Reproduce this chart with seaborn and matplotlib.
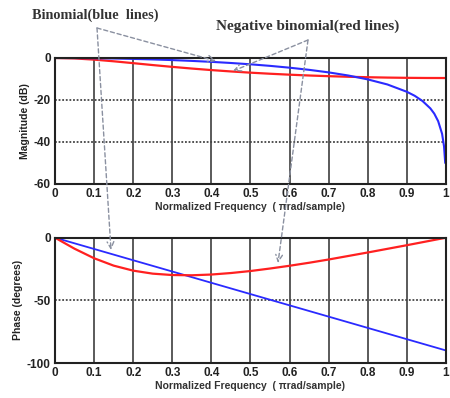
import matplotlib
matplotlib.use("Agg")
import matplotlib.pyplot as plt
import seaborn as sns
import pandas as pd

# ---- data ----
freq_blue_mag = [0, 0.05, 0.1, 0.15, 0.2, 0.25, 0.3, 0.35, 0.4, 0.45, 0.5, 0.55, 0.6,
                 0.65, 0.7, 0.75, 0.8, 0.85, 0.9, 0.92, 0.94, 0.96, 0.97, 0.98, 0.99,
                 0.995, 0.998]
mag_blue = [0, -0.03, -0.11, -0.24, -0.44, -0.69, -1.0, -1.39, -1.84, -2.38, -3.01,
            -3.75, -4.62, -5.64, -6.86, -8.34, -10.2, -12.6, -16.1, -18.0, -20.5,
            -24.0, -26.5, -30.1, -36.1, -42.1, -50.0]

freq_red = [0, 0.05, 0.1, 0.15, 0.2, 0.25, 0.3, 0.35, 0.4, 0.45, 0.5, 0.55, 0.6,
            0.65, 0.7, 0.75, 0.8, 0.85, 0.9, 0.95, 1.0]
mag_red = [0, -0.21, -0.78, -1.57, -2.46, -3.37, -4.23, -5.03, -5.76, -6.41, -6.99,
           -7.50, -7.95, -8.34, -8.66, -8.94, -9.16, -9.33, -9.45, -9.52, -9.54]
phase_red = [0, -8.8, -16.4, -22.3, -26.3, -28.7, -29.8, -30.0, -29.4, -28.2, -26.6,
             -24.6, -22.4, -20.0, -17.4, -14.6, -11.8, -8.9, -6.0, -3.0, 0]

freq_blue_phase = [0, 0.1, 0.2, 0.3, 0.4, 0.5, 0.6, 0.7, 0.8, 0.9, 1.0]
phase_blue = [0, -9, -18, -27, -36, -45, -54, -63, -72, -81, -90]

xticks = [0, 0.1, 0.2, 0.3, 0.4, 0.5, 0.6, 0.7, 0.8, 0.9, 1]
xticklabels = ["0", "0.1", "0.2", "0.3", "0.4", "0.5", "0.6", "0.7", "0.8", "0.9", "1"]
mag_ticks = [0, -20, -40, -60]
phase_ticks = [0, -50, -100]

label_binomial = "Binomial(blue  lines)"
label_negbin = "Negative binomial(red lines)"
xlabel = "Normalized Frequency  ( \u03c0rad/sample)"

sns.set_style("white")
plt.rcParams["font.family"] = ["Liberation Sans", "DejaVu Sans"]

fig = plt.figure(figsize=(4.5, 3.98), dpi=100)
ax1 = fig.add_axes([0.1222, 0.5377, 0.8689, 0.3166])
ax2 = fig.add_axes([0.1222, 0.0879, 0.8689, 0.3149])

df_red = pd.DataFrame({"f": freq_red, "mag": mag_red, "phase": phase_red})
df_bm = pd.DataFrame({"f": freq_blue_mag, "mag": mag_blue})
df_bp = pd.DataFrame({"f": freq_blue_phase, "phase": phase_blue})

RED = "#ff2020"
BLUE = "#2a2aff"

sns.lineplot(data=df_red, x="f", y="mag", ax=ax1, color=RED, lw=1.6, estimator=None, sort=False)
sns.lineplot(data=df_bm, x="f", y="mag", ax=ax1, color=BLUE, lw=1.5, estimator=None, sort=False)
sns.lineplot(data=df_bp, x="f", y="phase", ax=ax2, color=BLUE, lw=1.3, estimator=None, sort=False)
sns.lineplot(data=df_red, x="f", y="phase", ax=ax2, color=RED, lw=1.6, estimator=None, sort=False)

for ax, yt, ylab, ylim in [(ax1, mag_ticks, "Magnitude (dB)", (-60, 0)),
                           (ax2, phase_ticks, "Phase (degrees)", (-100, 0))]:
    ax.set_xlim(0, 1)
    ax.set_ylim(*ylim)
    ax.set_xticks(xticks)
    ax.set_xticklabels(xticklabels, fontsize=8.5, fontweight="bold", color="#222")
    ax.set_yticks(yt)
    ax.set_yticklabels([str(v) for v in yt], fontsize=8.5, fontweight="bold", color="#222")
    ax.tick_params(length=0, pad=3)
    ax.xaxis.grid(True, color="#5a5a5a", lw=1.4, ls="-")
    ax.yaxis.grid(True, color="#444444", lw=1.3, ls=(0, (1, 1)))
    ax.set_axisbelow(True)
    for s in ax.spines.values():
        s.set_visible(True)
        s.set_color("#222")
        s.set_linewidth(1.5)
    ax.set_xlabel(xlabel, fontsize=7.5, fontweight="bold", color="#333", labelpad=1)
    ax.set_ylabel(ylab, fontsize=7.5, fontweight="bold", color="#222", labelpad=3)

# annotations
fig.text(32 / 450, 1 - 15 / 398, label_binomial, family="Liberation Serif", fontweight="bold",
         fontsize=10.3, color="#333", ha="left", va="center")
fig.text(216 / 450, 1 - 26 / 398, label_negbin, family="Liberation Serif", fontweight="bold",
         fontsize=11, color="#333", ha="left", va="center")

arrow_kw = dict(arrowstyle="->", color="#8a90a0", lw=1.0, ls=(0, (3, 2)),
                shrinkA=0, shrinkB=0, mutation_scale=12)


def fpt(x, y):
    return (x / 450, 1 - y / 398)


for start, end in [((97, 28), (216, 61)), ((97, 28), (111, 250)),
                   ((308, 40), (233, 71)), ((308, 40), (278, 263))]:
    fig.add_artist(matplotlib.patches.FancyArrowPatch(fpt(*start), fpt(*end),
                                                      transform=fig.transFigure, **arrow_kw))

fig.savefig("out.png", dpi=100)
